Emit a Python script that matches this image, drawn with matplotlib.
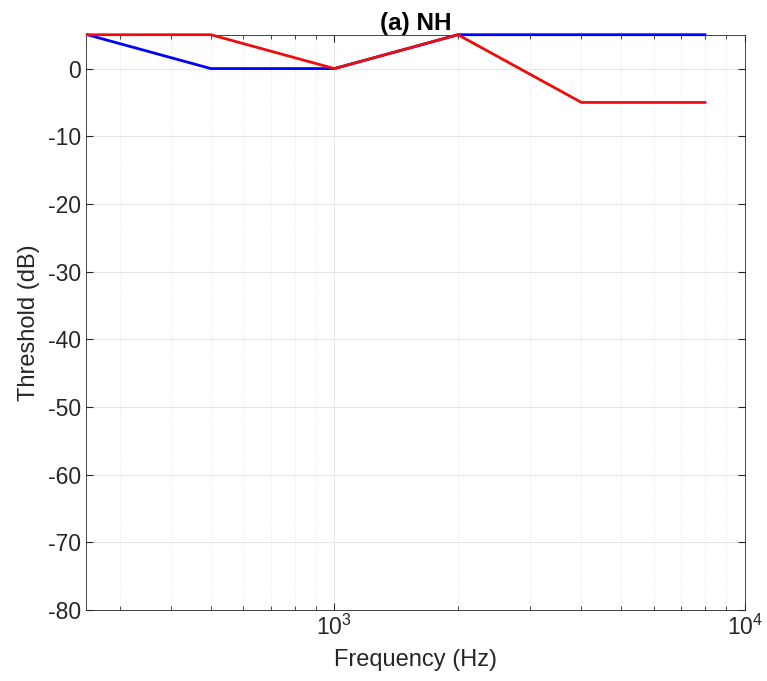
import matplotlib.pyplot as plt
import numpy as np

plt.rcParams['font.family'] = ['Liberation Sans', 'DejaVu Sans']
plt.rcParams['axes.unicode_minus'] = False

# audiogram thresholds
freqs = [250, 500, 1000, 2000, 4000, 8000]
thr_blue = [5, 0, 0, 5, 5, 5]
thr_red = [5, 5, 0, 5, -5, -5]

fig = plt.figure(figsize=(7.67, 6.81), dpi=100)
ax = fig.add_axes([0.112, 0.104, 0.859, 0.845])

ax.plot(freqs, thr_blue, color=(0, 0, 1), linewidth=2, clip_on=False, zorder=3)
ax.plot(freqs, thr_red, color=(0.93, 0.05, 0.05), linewidth=2, clip_on=False, zorder=4)

ax.set_xscale('log')
ax.set_xlim(248, 10000)
ax.set_ylim(-80, 5)
ax.set_yticks(np.arange(-80, 1, 10))

ax.grid(True, which='major', color='#e0e0e0', linewidth=0.6)
ax.grid(True, which='minor', axis='x', color='#e0e0e0', linestyle=':', linewidth=0.6)
ax.set_axisbelow(True)

ax.tick_params(which='both', direction='in', top=True, right=True, labelsize=16.5, colors='#262626')
ax.tick_params(which='major', length=5)
ax.tick_params(which='minor', length=3)
for s in ax.spines.values():
    s.set_color('#262626')
    s.set_linewidth(0.6)

ax.set_xlabel('Frequency (Hz)', fontsize=17, color='#262626', labelpad=6)
ax.set_ylabel('Threshold (dB)', fontsize=17, color='#262626', labelpad=6)
ax.set_title('(a) NH', fontsize=17.5, fontweight='bold', pad=3)

fig.savefig('out.png', dpi=100)
